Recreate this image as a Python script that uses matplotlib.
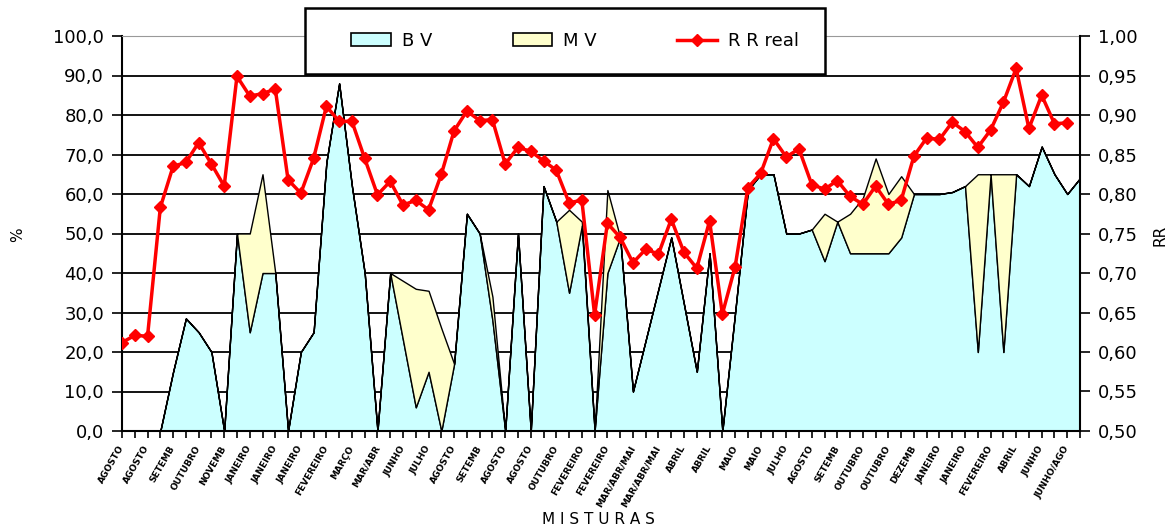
import numpy as np
import matplotlib
matplotlib.use("Agg")
import matplotlib.pyplot as plt
from matplotlib.patches import Patch
from matplotlib.lines import Line2D
from matplotlib.transforms import ScaledTranslation

#BV and MV percentages for each mixture (stacked areas)
bv = [0, 0, 0, 0, 15, 28.5, 25, 20, 0, 50,
      25, 40, 40, 0, 20, 25, 68, 88, 62, 40,
      0, 40, 23, 6, 15, 0, 17, 55, 50, 28,
      0, 50, 0, 62, 53, 35, 52, 0, 40, 49,
      10, 23, 36, 49, 32, 15, 45, 0, 30, 61,
      65, 65, 50, 50, 51, 43, 53, 45, 45, 45,
      45, 49, 60, 60, 60, 60.5, 62, 20, 65, 20,
      65, 62, 72, 65, 60, 64]
mv = [0, 0, 0, 0, 0, 0, 0, 0, 0, 0,
      25, 25, 0, 0, 0, 0, 0, 0, 0, 0,
      0, 0, 15, 30, 20.5, 26, 0, 0, 0, 6,
      0, 0, 0, 0, 0, 21, 1, 0, 21, 0,
      0, 0, 0, 0, 0, 0, 0, 0, 0, 0,
      0, 0, 0, 0, 0, 12, 0, 10, 14, 24,
      15, 15.5, 0, 0, 0, 0, 0, 45, 0, 45,
      0, 0, 0, 0, 0, 0]

#RR real (right axis)
rr = [0.612, 0.621, 0.620, 0.783, 0.835, 0.840, 0.865, 0.838, 0.810, 0.949,
      0.924, 0.927, 0.933, 0.818, 0.801, 0.845, 0.911, 0.892, 0.892, 0.845,
      0.799, 0.816, 0.786, 0.792, 0.780, 0.825, 0.880, 0.905, 0.893, 0.894,
      0.838, 0.859, 0.854, 0.842, 0.830, 0.789, 0.792, 0.647, 0.763, 0.745,
      0.713, 0.730, 0.724, 0.768, 0.726, 0.706, 0.766, 0.648, 0.708, 0.808,
      0.826, 0.870, 0.847, 0.857, 0.812, 0.806, 0.817, 0.797, 0.787, 0.810,
      0.787, 0.792, 0.848, 0.871, 0.869, 0.891, 0.879, 0.859, 0.881, 0.916,
      0.959, 0.883, 0.925, 0.889, 0.890]

#labels shown on every second mixture
rotulos = ["AGOSTO", "AGOSTO", "SETEMB", "OUTUBRO", "NOVEMB", "JANEIRO", "JANEIRO",
           "JANEIRO", "FEVEREIRO", "MARÇO", "MAR/ABR", "JUNHO", "JULHO", "AGOSTO",
           "SETEMB", "AGOSTO", "AGOSTO", "OUTUBRO", "FEVEREIRO", "FEVEREIRO",
           "MAR/ABR/MAI", "MAR/ABR/MAI", "ABRIL", "ABRIL", "MAIO", "MAIO", "JULHO",
           "AGOSTO", "SETEMB", "OUTUBRO", "OUTUBRO", "DEZEMB", "JANEIRO", "JANEIRO",
           "FEVEREIRO", "ABRIL", "JUNHO", "JUNHO/AGO"]

cyan = "#CCFFFF"
yellow = "#FFFFCC"

fig = plt.figure(figsize=(11.73, 5.30), dpi=100)
ax = fig.add_axes([122/1173, 99/530, 958/1173, 395/530])

x = np.arange(len(bv))
ax.stackplot(x, bv, mv, colors=[cyan, yellow], edgecolor="black", linewidth=1.0)

ax.set_xlim(0, len(bv) - 1)
ax.set_ylim(0, 100)
ax.set_yticks(np.arange(0, 101, 10))
ax.set_yticklabels([f"{v:.1f}".replace(".", ",") for v in np.arange(0, 101, 10)], fontsize=13)
ax.yaxis.grid(True, color="black", linewidth=1.3)
ax.set_axisbelow(True)

#ticks on every category, labels on every second one
ax.set_xticks(x, minor=True)
ax.set_xticks(x[::2][:len(rotulos)])
ax.set_xticklabels(rotulos, rotation=60, ha="right", va="center", rotation_mode="anchor",
                   fontsize=6.5, fontweight="bold")
shift = ScaledTranslation(-8/100, -4/100, fig.dpi_scale_trans)
for lab in ax.get_xticklabels():
    lab.set_transform(lab.get_transform() + shift)
ax.tick_params(axis="x", which="both", direction="out", length=5, width=1.2, pad=6)
ax.tick_params(axis="y", direction="out", length=7, width=1.2, pad=6)

for s in ["left", "bottom"]:
    ax.spines[s].set_linewidth(1.5)
ax.spines["top"].set_color("#999999")
ax.spines["right"].set_visible(False)

#RR line on the secondary axis
ax2 = ax.twinx()
ax2.plot(np.arange(len(rr)), rr, color="red", linewidth=2.5, marker="D", markersize=6.5,
         markeredgecolor="red", markerfacecolor="red")
ax2.set_ylim(0.5, 1.0)
ax2.set_yticks(np.arange(0.5, 1.001, 0.05))
ax2.set_yticklabels([f"{v:.2f}".replace(".", ",") for v in np.arange(0.5, 1.001, 0.05)], fontsize=13)
ax2.tick_params(axis="y", direction="out", length=7, width=1.2, pad=6)
ax2.spines["right"].set_linewidth(1.5)
ax2.spines["top"].set_visible(False)
ax2.spines["left"].set_visible(False)
ax2.spines["bottom"].set_visible(False)

fig.text(18/1173, 1 - 235/530, "%", rotation=90, ha="center", va="center", fontsize=11)
fig.text(1160/1173, 1 - 235/530, "RR", rotation=90, ha="center", va="center", fontsize=11)
fig.text(598/1173, 1 - 520/530, "M I S T U R A S", ha="center", va="center", fontsize=11)

handles = [Patch(facecolor=cyan, edgecolor="black", linewidth=1.2),
           Patch(facecolor=yellow, edgecolor="black", linewidth=1.2),
           Line2D([0], [0], color="red", linewidth=2.5, marker="D", markersize=6.5)]
leg = fig.legend(handles, ["B V", "M V", "R R real"], ncol=3, mode="expand", loc="center",
                 bbox_to_anchor=(335/1173, 1 - 74/530, 480/1173, 66/530),
                 fontsize=13, frameon=False, handlelength=2.2, handletextpad=0.6)

#legend box drawn separately so it spans the full width
box = plt.Rectangle((305/1173, 1 - 74/530), 520/1173, 66/530, transform=fig.transFigure,
                    facecolor="white", edgecolor="black", linewidth=1.8, zorder=4)
fig.patches.append(box)

fig.savefig("out.png", dpi=100)
